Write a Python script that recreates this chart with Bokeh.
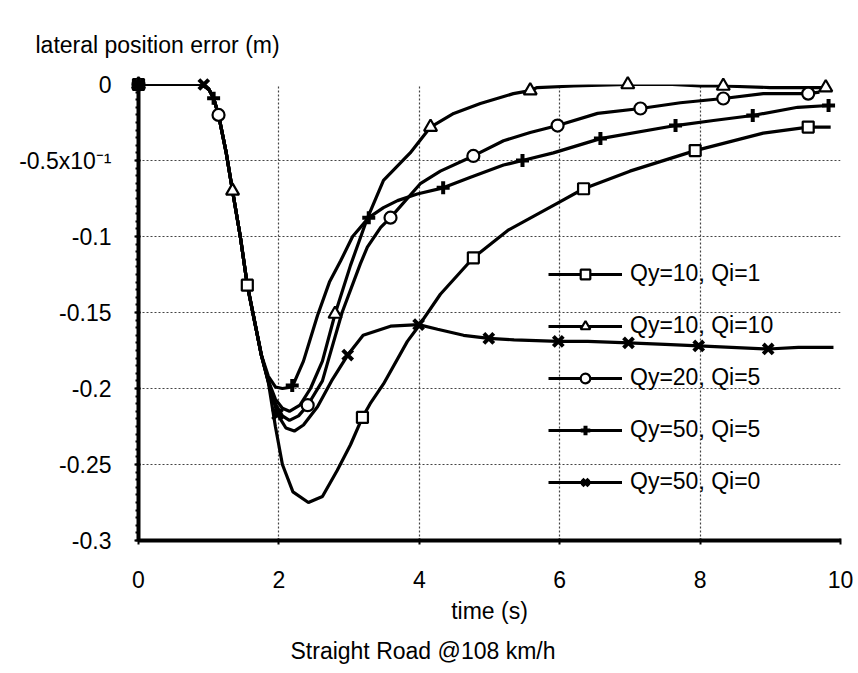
from bokeh.plotting import figure
from bokeh.models import FixedTicker, Legend, LegendItem, Title, Range1d
from bokeh.embed import file_html
from bokeh.resources import INLINE

FONT = "Liberation Sans"
FS = "23px"

# ---------------- data ----------------
x_ticks = [0, 2, 4, 6, 8, 10]
y_ticks = [0, -0.05, -0.1, -0.15, -0.2, -0.25, -0.3]
y_tick_labels = ["0", "-0.5x10\u207b\u00b9", "-0.1", "-0.15", "-0.2", "-0.25", "-0.3"]
y_minor_ticks = [round(-0.005 * i, 3) for i in range(61)]

names = ["Qy=10, Qi=1", "Qy=10, Qi=10", "Qy=20, Qi=5", "Qy=50, Qi=5", "Qy=50, Qi=0"]

# Qy=10, Qi=1
s1_t = [0, 0.9, 1.0, 1.07, 1.14, 1.25, 1.34, 1.45, 1.55, 1.65, 1.75, 1.85,
        1.95, 2.05, 2.2, 2.42, 2.62, 2.83, 3.02, 3.19, 3.3, 3.49, 3.83, 3.99,
        4.3, 4.77, 5.26, 5.97, 6.34, 7.0, 7.93, 8.9, 9.54, 9.86]
s1_y = [0, 0, -0.003, -0.009, -0.020, -0.045, -0.070, -0.100, -0.132, -0.155, -0.178, -0.196,
        -0.225, -0.25, -0.268, -0.275, -0.271, -0.254, -0.237, -0.219, -0.21, -0.197, -0.169, -0.159,
        -0.138, -0.114, -0.096, -0.078, -0.0686, -0.057, -0.0435, -0.032, -0.028, -0.028]
s1_mt = [0, 1.55, 3.19, 4.77, 6.34, 7.93, 9.54]
s1_my = [0, -0.132, -0.219, -0.114, -0.0686, -0.0435, -0.028]

# Qy=10, Qi=10
s2_t = [0, 0.9, 1.0, 1.07, 1.14, 1.25, 1.34, 1.45, 1.55, 1.65, 1.75, 1.85,
        1.95, 2.05, 2.15, 2.3, 2.45, 2.62, 2.8, 3.02, 3.26, 3.49, 3.87, 4.16,
        4.49, 4.87, 5.34, 5.58, 5.68, 6.2, 6.97, 7.6, 8.0, 8.33, 9.0, 9.81]
s2_y = [0, 0, -0.003, -0.009, -0.020, -0.045, -0.070, -0.100, -0.132, -0.155, -0.178, -0.195,
        -0.207, -0.213, -0.215, -0.211, -0.2, -0.182, -0.151, -0.119, -0.088, -0.063, -0.045, -0.028,
        -0.019, -0.0125, -0.006, -0.004, -0.002, -0.001, 0.0, 0.0, -0.001, -0.001, -0.002, -0.002]
s2_mt = [0, 1.34, 2.8, 4.16, 5.58, 6.97, 8.33, 9.79]
s2_my = [0, -0.070, -0.151, -0.028, -0.004, 0.0, -0.001, -0.002]

# Qy=20, Qi=5
s3_t = [0, 0.9, 1.0, 1.07, 1.14, 1.25, 1.34, 1.45, 1.55, 1.65, 1.75, 1.85,
        1.95, 2.05, 2.15, 2.28, 2.41, 2.62, 2.7, 2.9, 3.16, 3.26, 3.45, 3.59,
        4.02, 4.3, 4.77, 5.2, 5.58, 5.97, 6.54, 7.15, 7.72, 8.33, 8.9, 9.54, 9.7]
s3_y = [0, 0, -0.003, -0.009, -0.020, -0.045, -0.070, -0.100, -0.132, -0.155, -0.178, -0.195,
        -0.210, -0.218, -0.221, -0.218, -0.211, -0.195, -0.182, -0.150, -0.118, -0.107, -0.094, -0.0876,
        -0.065, -0.057, -0.047, -0.037, -0.0316, -0.027, -0.019, -0.0158, -0.012, -0.0092, -0.006, -0.006, -0.005]
s3_mt = [0, 1.14, 2.41, 3.59, 4.77, 5.97, 7.15, 8.33, 9.54]
s3_my = [0, -0.020, -0.211, -0.0876, -0.047, -0.027, -0.0158, -0.0092, -0.006]

# Qy=50, Qi=5
s4_t = [0, 0.9, 1.0, 1.07, 1.14, 1.25, 1.34, 1.45, 1.55, 1.65, 1.75, 1.85,
        1.95, 2.05, 2.19, 2.35, 2.55, 2.72, 2.88, 3.05, 3.28, 3.49, 3.69, 3.97,
        4.34, 4.73, 5.2, 5.47, 5.91, 6.58, 7.65, 8.19, 8.75, 9.39, 9.83]
s4_y = [0, 0, -0.003, -0.009, -0.020, -0.045, -0.070, -0.100, -0.132, -0.155, -0.178, -0.192,
        -0.199, -0.200, -0.199, -0.182, -0.152, -0.130, -0.116, -0.100, -0.0876, -0.081, -0.0764, -0.072,
        -0.068, -0.061, -0.053, -0.050, -0.045, -0.0356, -0.027, -0.0237, -0.0204, -0.015, -0.0138]
s4_mt = [0, 1.07, 2.19, 3.28, 4.34, 5.47, 6.58, 7.65, 8.75, 9.83]
s4_my = [0, -0.009, -0.198, -0.0876, -0.068, -0.050, -0.0356, -0.027, -0.0204, -0.0138]

# Qy=50, Qi=0
s5_t = [0, 0.93, 1.0, 1.07, 1.14, 1.25, 1.34, 1.45, 1.55, 1.65, 1.75, 1.85,
        1.98, 2.1, 2.22, 2.35, 2.55, 2.75, 2.98, 3.2, 3.59, 3.99,
        4.26, 4.63, 4.99, 5.35, 5.98, 6.4, 6.98, 7.5, 7.98, 8.97, 9.4, 9.9]
s5_y = [0, 0, -0.003, -0.009, -0.020, -0.045, -0.070, -0.100, -0.132, -0.155, -0.178, -0.196,
        -0.217, -0.226, -0.228, -0.224, -0.212, -0.195, -0.178, -0.165, -0.159, -0.158,
        -0.161, -0.165, -0.167, -0.168, -0.169, -0.169, -0.170, -0.171, -0.172, -0.174, -0.173, -0.173]
s5_mt = [0, 0.93, 1.98, 2.98, 3.99, 4.99, 5.98, 6.98, 7.98, 8.97]
s5_my = [0, 0, -0.217, -0.178, -0.158, -0.167, -0.169, -0.170, -0.172, -0.174]

series = [
    (s1_t, s1_y, s1_mt, s1_my, dict(marker="square", size=11, fill_color="white", line_width=2.2)),
    (s2_t, s2_y, s2_mt, s2_my, dict(marker="triangle", size=13, fill_color="white", line_width=2.2)),
    (s3_t, s3_y, s3_mt, s3_my, dict(marker="circle", size=12, fill_color="white", line_width=2.2)),
    (s4_t, s4_y, s4_mt, s4_my, dict(marker="cross", size=13, fill_color="black", line_width=4)),
    (s5_t, s5_y, s5_mt, s5_my, dict(marker="x", size=14, fill_color="black", line_width=4)),
]

# ---------------- figure ----------------
p = figure(width=858, height=673, output_backend="svg", toolbar_location=None,
           x_range=Range1d(0, 10), y_range=Range1d(-0.3, 0),
           min_border_left=138, min_border_right=18, min_border_top=84, min_border_bottom=133)
p.outline_line_color = None
p.background_fill_color = "white"
p.border_fill_color = "white"

# heading (top left)
p.title.text = "lateral position error (m)"
p.title.align = "left"
p.title.offset = -103
p.title.vertical_align = "top"
p.title.standoff = 49
p.title.text_font = FONT
p.title.text_font_size = FS
p.title.text_font_style = "normal"
p.title.text_color = "black"

# axes
p.xaxis.ticker = FixedTicker(ticks=x_ticks)
p.yaxis.ticker = FixedTicker(ticks=y_ticks, minor_ticks=y_minor_ticks)
p.yaxis.major_label_overrides = {v: s for v, s in zip(y_ticks, y_tick_labels)}
for ax in (p.xaxis[0], p.yaxis[0]):
    ax.axis_line_width = 4
    ax.axis_line_color = "black"
    ax.major_tick_line_color = "black"
    ax.major_tick_line_width = 2
    ax.major_tick_out = 4
    ax.major_tick_in = 2
    ax.major_label_text_font = FONT
    ax.major_label_text_font_size = FS
    ax.major_label_text_color = "black"
    ax.axis_label_text_font = FONT
    ax.axis_label_text_font_size = FS
    ax.axis_label_text_font_style = "normal"
    ax.axis_label_text_color = "black"
p.xaxis.minor_tick_line_color = None
p.yaxis.minor_tick_line_color = "black"
p.yaxis.minor_tick_line_width = 2
p.yaxis.minor_tick_out = 3
p.yaxis.minor_tick_in = 0
p.yaxis.major_label_standoff = 23
p.xaxis.major_label_standoff = 26
p.xaxis.axis_label = "time (s)"
p.xaxis.axis_label_standoff = 7

# grid
p.xgrid.ticker = FixedTicker(ticks=x_ticks)
p.ygrid.ticker = FixedTicker(ticks=y_ticks)
for g in (p.xgrid[0], p.ygrid[0]):
    g.grid_line_color = "#444444"
    g.grid_line_dash = "2 2"
    g.grid_line_width = 1.2

# caption below
p.add_layout(Title(text="Straight Road @108 km/h", align="left", offset=152, standoff=18,
                   vertical_align="bottom",
                   text_font=FONT, text_font_size=FS, text_font_style="normal",
                   text_color="black"), "below")

items = []
for (t, y, mt, my, mk), name in zip(series, names):
    lr = p.line(t, y, line_color="black", line_width=3.2)
    sr = p.scatter(mt, my, marker=mk["marker"], size=mk["size"], fill_color=mk["fill_color"],
                   line_color="black", line_width=mk["line_width"], level="overlay")
    items.append(LegendItem(label=name, renderers=[lr, sr]))

legend = Legend(items=items, location=(410, 45), orientation="vertical",
                glyph_width=74, glyph_height=24, label_height=24, spacing=25,
                label_standoff=8, padding=0, margin=0,
                label_text_font=FONT, label_text_font_size=FS, label_text_color="black",
                background_fill_alpha=0, border_line_color=None)
p.add_layout(legend)

open("out.html", "w").write(file_html(p, INLINE))
